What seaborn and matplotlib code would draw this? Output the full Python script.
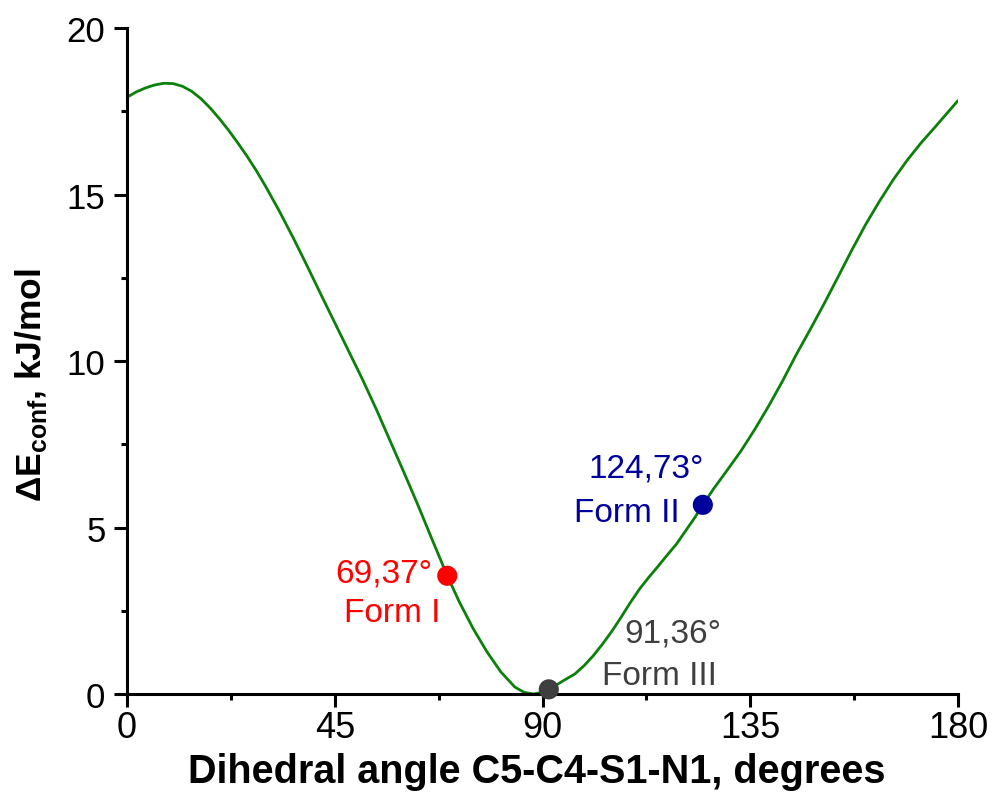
import matplotlib
matplotlib.use("Agg")
import matplotlib.pyplot as plt
import seaborn as sns
import pandas as pd
from matplotlib.ticker import MultipleLocator

# Conformational energy profile along the C5-C4-S1-N1 dihedral
angle = [0, 2, 4, 6, 8, 10, 12, 14, 16, 18, 20, 22, 24, 26, 28, 30, 33, 36,
         39, 42, 45, 48, 51, 54, 57, 60, 63, 66, 69.37, 72, 75, 78, 81, 84,
         86, 88, 90, 91.36, 93, 95, 97, 99, 101, 103, 105, 107, 109, 111,
         113, 115, 117, 119, 121, 123, 124.73, 127, 130, 133, 136, 139, 142,
         145, 148, 151, 154, 157, 160, 163, 166, 169, 172, 175, 178, 180]
energy = [17.92, 18.08, 18.2, 18.29, 18.34, 18.33, 18.25, 18.1, 17.88, 17.6,
          17.28, 16.93, 16.55, 16.15, 15.72, 15.25, 14.5, 13.7, 12.86, 12.0,
          11.15, 10.3, 9.45, 8.55, 7.6, 6.65, 5.68, 4.67, 3.55, 2.76, 1.96,
          1.26, 0.66, 0.21, 0.05, 0.0, 0.05, 0.14, 0.27, 0.44, 0.6, 0.85,
          1.15, 1.5, 1.88, 2.3, 2.74, 3.15, 3.5, 3.83, 4.17, 4.5, 4.9, 5.3,
          5.68, 6.15, 6.72, 7.3, 7.95, 8.65, 9.4, 10.2, 10.95, 11.72, 12.52,
          13.33, 14.1, 14.8, 15.45, 16.03, 16.55, 17.02, 17.5, 17.82]

# Crystal forms located on the profile
form_names = ["Form I", "Form II", "Form III"]
form_angle = [69.37, 124.73, 91.36]
form_energy = [3.55, 5.68, 0.14]
form_colors = ["#ff0000", "#00009c", "#3f3f3f"]

x_ticks = [0, 45, 90, 135, 180]
y_ticks = [0, 5, 10, 15, 20]

sns.set_style("ticks")
plt.rcParams["font.family"] = ["Liberation Sans", "DejaVu Sans"]
plt.rcParams["mathtext.fontset"] = "custom"
plt.rcParams["mathtext.rm"] = "Liberation Sans"
plt.rcParams["mathtext.bf"] = "Liberation Sans:bold"
plt.rcParams["text.color"] = "black"
plt.rcParams["axes.labelcolor"] = "black"
plt.rcParams["xtick.color"] = "black"
plt.rcParams["ytick.color"] = "black"

fig = plt.figure(figsize=(9.94, 8.04), dpi=100)
ax = fig.add_axes([127 / 994, 1 - 695 / 804, 831 / 994, 666 / 804])

profile = pd.DataFrame({"angle": angle, "energy": energy})
sns.lineplot(data=profile, x="angle", y="energy", ax=ax, color="#0b800b",
             linewidth=2.0, zorder=2)

forms = pd.DataFrame({"angle": form_angle, "energy": form_energy,
                      "form": form_names})
sns.scatterplot(data=forms, x="angle", y="energy", hue="form",
                palette=dict(zip(form_names, form_colors)), s=210,
                edgecolor="none", legend=False, ax=ax, zorder=3, clip_on=False)

# Labels: angle value above, form name below (x centre, baselines)
label_pos = {
    "Form I": (55.7, 3.39, 57.5, 2.19),
    "Form II": (112.4, 6.52, 108.2, 5.2),
    "Form III": (118.3, 1.59, 115.4, 0.30),
}
for name, a, c in zip(form_names, form_angle, form_colors):
    xa, ya, xn, yn = label_pos[name]
    ax.text(xa, ya, f"{a:.2f}°".replace(".", ","), color=c, fontsize=24,
            ha="center", va="baseline")
    ax.text(xn, yn, name, color=c, fontsize=24, ha="center", va="baseline")

ax.set_xlim(0, 180)
ax.set_ylim(0, 20)
ax.set_xticks(x_ticks)
ax.set_yticks(y_ticks)
ax.xaxis.set_minor_locator(MultipleLocator(22.5))
ax.yaxis.set_minor_locator(MultipleLocator(2.5))

for side in ("top", "right"):
    ax.spines[side].set_visible(False)
for side in ("left", "bottom"):
    ax.spines[side].set_linewidth(2.2)
    ax.spines[side].set_color("black")

ax.tick_params(which="major", direction="out", length=9.5, width=2.2,
               color="black", labelcolor="black")
ax.tick_params(which="minor", direction="out", length=4.5, width=2.2,
               color="black")
ax.tick_params(axis="y", which="major", labelsize=25, pad=6)
ax.tick_params(axis="x", which="major", labelsize=26, pad=2)

ax.set_xlabel("Dihedral angle C5-C4-S1-N1, degrees", fontsize=28.5,
              fontweight="bold")
ax.xaxis.set_label_coords((537 - 127) / 831, (695 - 772) / 666)
ax.xaxis.label.set_va("center")
ax.set_ylabel(r"ΔE$_{\mathbf{conf}}$, kJ/mol", fontsize=25.5,
              fontweight="bold")
ax.yaxis.set_label_coords((31 - 127) / 831, (695 - 385) / 666)
ax.yaxis.label.set_va("center")

fig.savefig("out.png", dpi=100)
